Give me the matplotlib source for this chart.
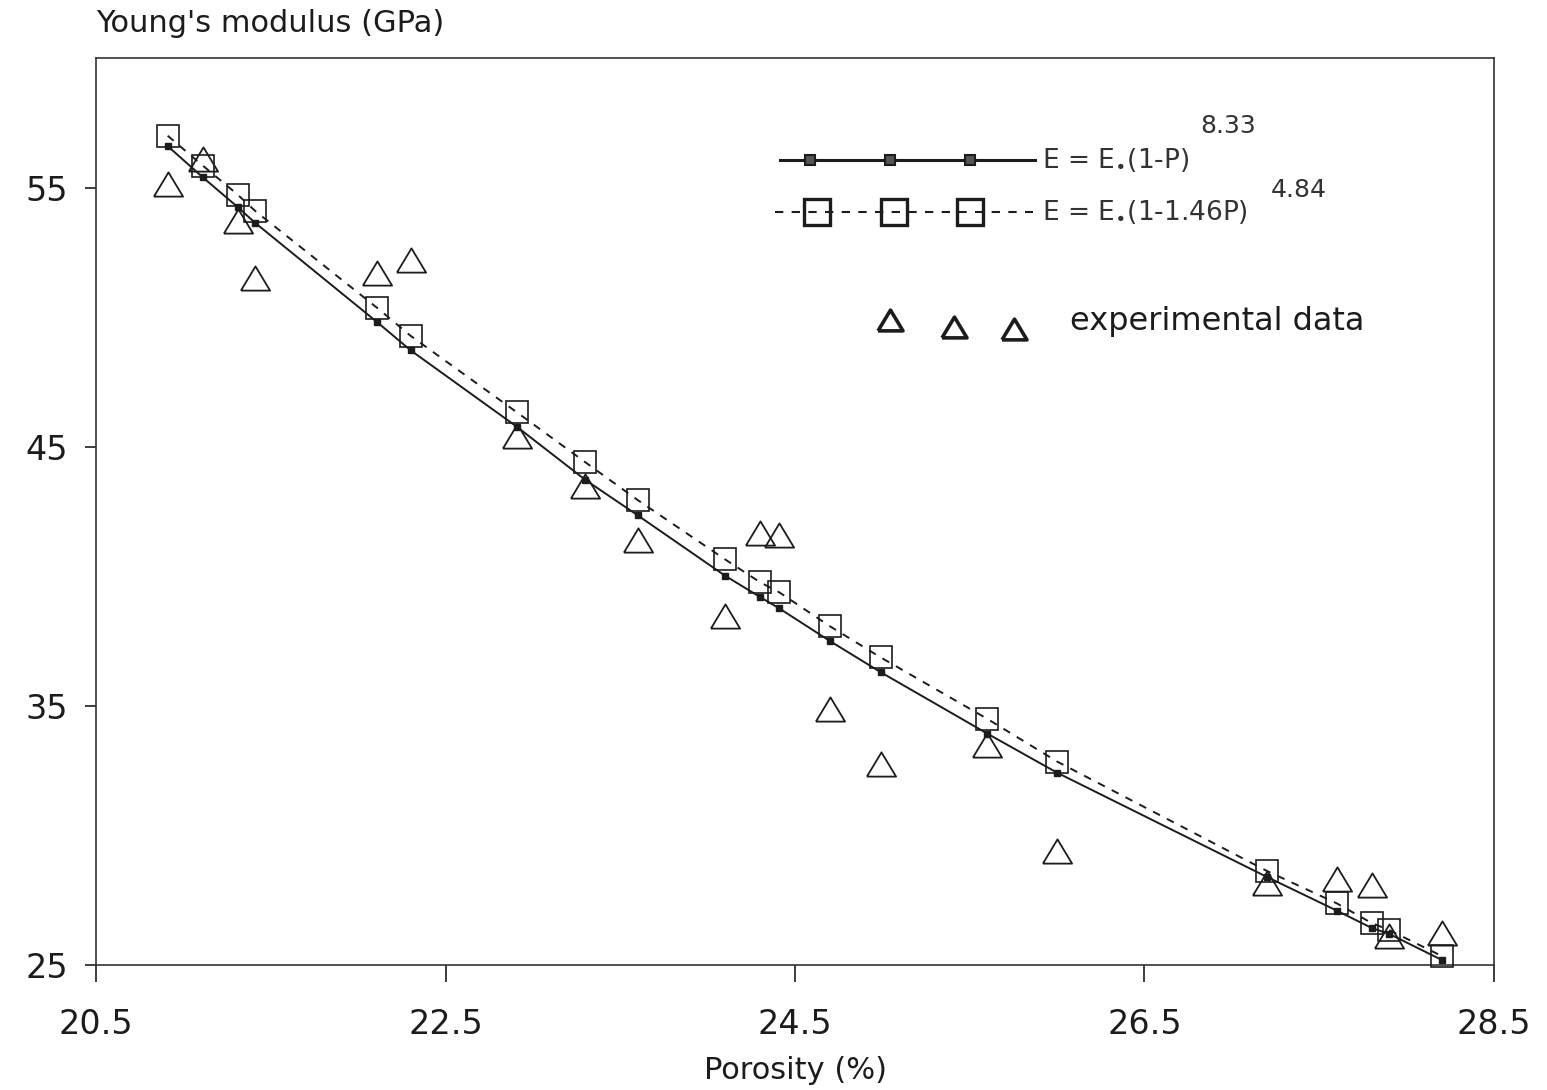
import matplotlib
matplotlib.use("Agg")
import matplotlib.pyplot as plt
import numpy as np

# porosity (%) of each sample
porosity = [20.91, 21.11, 21.31, 21.41, 22.11, 22.30, 22.91, 23.30, 23.60, 24.10, 24.30,
            24.41, 24.70, 24.99, 25.60, 26.00, 27.20, 27.60, 27.80, 27.90, 28.20]
# measured Young's modulus (GPa)
e_exp = [55.15, 56.1, 53.7, 51.5, 51.7, 52.2, 45.4, 43.5, 41.4, 38.45, 41.66,
         41.58, 34.86, 32.77, 33.5, 29.4, 28.15, 28.3, 28.1, 26.1, 26.24]
# E = Eo(1-P)^8.33
e_model1 = [56.6, 55.4, 54.25, 53.64, 49.8, 48.72, 45.76, 43.72, 42.35, 40.02, 39.2,
            38.76, 37.5, 36.3, 33.93, 32.42, 28.4, 27.1, 26.43, 26.2, 25.2]
# E = Eo(1-1.46P)^4.84
e_model2 = [57.0, 55.85, 54.73, 54.1, 50.35, 49.28, 46.32, 44.4, 42.94, 40.65, 39.77,
            39.38, 38.07, 36.87, 34.5, 32.85, 28.63, 27.38, 26.62, 26.35, 25.35]

x_ticks = [20.5, 22.5, 24.5, 26.5, 28.5]
y_ticks = [25, 35, 45, 55]

ink = '#1c1c1c'
plt.rcParams['font.family'] = ['DejaVu Sans']

fig = plt.figure(figsize=(15.47, 10.90), dpi=100)
ax = fig.add_axes([0.0621, 0.1147, 0.9036, 0.8321])

# triangle a bit wider than tall, like the scanned plot
tri = [(-1, -0.83), (1, -0.83), (0, 0.83), (-1, -0.83)]

ax.plot(porosity, e_exp, linestyle='none', marker=tri, ms=21, mfc='none',
        mec=ink, mew=1.3, clip_on=False, zorder=2)
ax.plot(porosity, e_model1, '-', color=ink, lw=1.4, marker='s', ms=5,
        mfc=ink, mec=ink, clip_on=False, zorder=3)
ax.plot(porosity, e_model2, '--', color=ink, lw=1.4, dashes=(4, 4), marker='s', ms=16,
        mfc='none', mec=ink, mew=1.2, clip_on=False, zorder=3)

ax.set_xlim(20.5, 28.5)
ax.set_ylim(25, 60)
ax.set_xticks(x_ticks)
ax.set_xticklabels([f"{v:.1f}" for v in x_ticks])
ax.set_yticks(y_ticks)
ax.tick_params(axis='x', direction='out', length=12, width=1.2, pad=19,
               labelsize=24, colors=ink)
ax.tick_params(axis='y', direction='out', length=8, width=1.2, pad=12,
               labelsize=24, colors=ink)
for s in ax.spines.values():
    s.set_linewidth(1.2)
    s.set_color('#333333')

# hand-drawn legend, as in the original
ax.plot([0.489, 0.672], [0.8875, 0.8875], '-', color=ink, lw=2.2,
        transform=ax.transAxes, clip_on=False)
ax.plot([0.511, 0.568, 0.625], [0.8875] * 3, linestyle='none', marker='s', ms=7,
        mfc='#555555', mec=ink, mew=1.5, transform=ax.transAxes, clip_on=False)
ax.text(0.677, 0.8875, "E = E$_{\\bullet}$(1-P)", fontsize=19, color='#333333',
        va='center', ha='left', transform=ax.transAxes)
ax.text(0.790, 0.925, "8.33", fontsize=18, color='#333333',
        va='center', ha='left', transform=ax.transAxes)

ax.plot([0.486, 0.670], [0.830, 0.830], '--', color=ink, lw=1.5, dashes=(4, 4),
        transform=ax.transAxes, clip_on=False)
ax.plot([0.516, 0.571, 0.625], [0.830] * 3, linestyle='none', marker='s', ms=19,
        mfc='none', mec=ink, mew=2.4, transform=ax.transAxes, clip_on=False)
ax.text(0.677, 0.830, "E = E$_{\\bullet}$(1-1.46P)", fontsize=19, color='#333333',
        va='center', ha='left', transform=ax.transAxes)
ax.text(0.840, 0.855, "4.84", fontsize=18, color='#333333',
        va='center', ha='left', transform=ax.transAxes)

ax.plot([0.568, 0.614, 0.657], [0.711, 0.703, 0.701], linestyle='none', marker=tri,
        ms=18, mfc='none', mec=ink, mew=2.6, transform=ax.transAxes, clip_on=False)
ax.text(0.697, 0.709, "experimental data", fontsize=23, color=ink,
        va='center', ha='left', transform=ax.transAxes)

fig.text(0.0621, 0.978, "Young's modulus (GPa)", fontsize=22, color=ink,
         ha='left', va='center')
fig.text(0.514, 0.018, "Porosity (%)", fontsize=22, color=ink,
         ha='center', va='center')

fig.savefig("out.png", dpi=100)
